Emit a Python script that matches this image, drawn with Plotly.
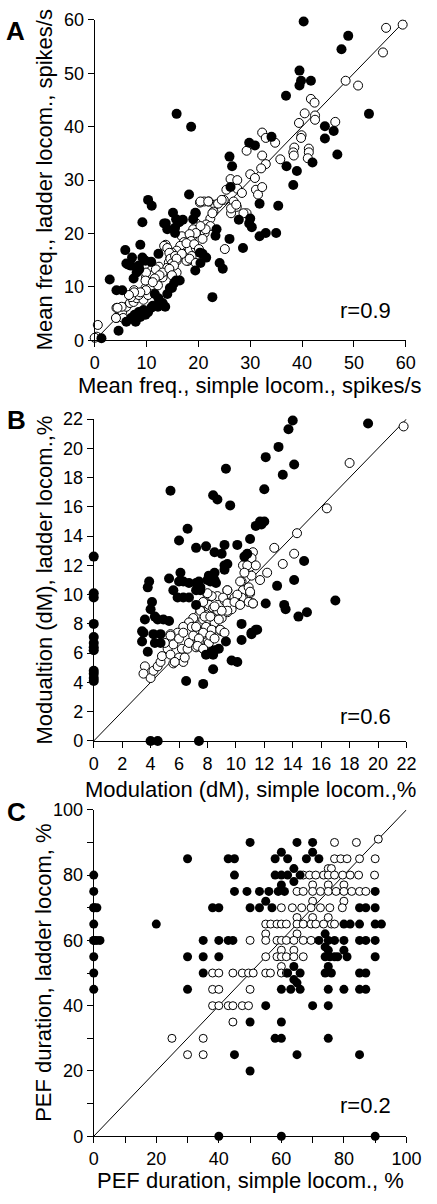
import plotly.graph_objects as go

# ---------------- Panel A: mean frequency (spikes/s) ----------------
a_filled_x = [40.3,48.9,47.6,39.5,39.8,39.5,41.7,36.9,15.8,18.6,52.9,44.4,46.1,44.4,34.1,29.8,30.9,46.8,42.0,37.0,39.0,38.3,26.0,26.5,26.2,18.2,10.3,11.0,31.8,35.4,15.1,19.4,27.8,30.0,29.8,30.3,9.2,13.7,14.0,15.5,16.3,17.0,15.5,23.5,23.3,26.0,31.8,33.0,35.0,28.6,5.9,8.8,7.2,6.1,7.0,9.2,10.9,12.3,20.3,21.5,20.4,24.1,24.7,19.4,13.4,15.7,19.0,19.5,15.3,8.5,6.4,8.1,7.5,8.6,9.8,2.9,4.2,5.3,20.8,22.7,15.7,16.4,15.3,14.5,14.0,11.6,12.3,12.7,13.6,11.2,10.9,10.3,9.4,8.5,7.7,7.0,6.1,7.9,8.8,9.8,4.6,1.3,14.9,13.1,12.2]
a_filled_y = [59.7,57.0,54.5,50.5,48.6,47.7,48.6,45.8,42.4,40.0,42.4,40.1,39.2,37.8,38.1,37.0,36.5,34.8,33.3,32.6,31.7,29.1,34.4,32.6,28.7,27.3,26.3,25.2,25.6,25.2,23.9,23.9,22.6,22.8,21.9,21.2,22.1,21.9,20.8,21.1,22.1,22.6,20.1,20.8,19.6,19.0,19.5,20.1,20.1,17.3,16.9,17.9,15.5,14.4,14.0,15.5,14.7,16.2,16.4,15.5,14.5,14.5,13.4,13.1,21.9,22.7,22.7,23.8,20.8,14.0,14.2,12.7,11.6,13.3,14.9,11.4,9.4,9.4,16.2,8.1,11.2,11.2,10.7,9.8,8.7,8.7,7.9,7.0,6.3,6.5,6.1,5.3,5.7,5.3,4.8,4.2,3.5,3.5,4.4,4.8,1.8,0.4,9.8,7.0,6.3]
a_hollow_x = [59.4,56.2,55.6,48.4,50.8,41.7,42.4,40.5,42.5,42.5,39.4,46.4,39.9,32.3,33.0,34.8,38.5,41.3,29.3,32.3,33.0,32.1,35.8,38.3,38.4,41.3,41.1,39.8,30.0,30.9,26.2,27.5,25.4,27.5,28.4,31.1,31.5,32.3,26.8,24.9,23.2,21.1,20.3,22.0,27.4,26.3,29.3,22.9,22.3,21.5,22.3,19.6,19.0,18.8,21.2,20.8,16.8,17.2,17.8,18.3,19.5,16.5,15.8,13.7,14.9,14.6,14.3,15.8,18.0,25.1,18.7,17.7,12.4,10.9,0.6,0.4,0.0,4.2,4.8,5.3,6.1,6.8,7.5,8.1,9.4,10.3,9.8,10.9,12.2,9.9,11.2,13.1,11.8,9.9,13.4,14.0,14.4,14.6,14.9,15.5,14.0,15.8,13.1,12.5,4.2,5.5,11.6,9.8,7.6,8.5,7.0,5.2,4.4,4.1,20.4,21.9,23.8,24.5,26.3,27.3,28.7,22.7,21.4,20.4,19.5,18.3,18.6,17.7,19.2,20.1,18.3,19.5,16.8,15.8,15.3,14.4,14.9,11.2,9.9,8.8,7.6,6.6]
a_hollow_y = [59.1,58.5,53.9,48.6,47.7,45.2,44.5,42.5,42.1,41.3,40.7,40.9,38.4,38.9,37.9,37.0,36.1,35.9,35.5,34.6,33.0,32.2,33.9,35.2,34.6,35.2,34.1,37.9,31.1,30.4,30.2,30.0,28.2,28.4,27.6,28.2,27.3,28.7,26.0,26.3,25.4,26.0,25.8,26.0,25.0,23.8,23.8,24.1,22.8,21.7,21.4,21.9,20.8,19.4,20.1,19.0,19.5,18.4,17.7,16.9,17.3,17.7,16.8,17.9,16.4,15.5,14.6,14.9,14.9,17.1,15.8,14.9,13.8,13.1,2.9,0.7,0.5,6.1,5.7,5.3,6.3,7.0,7.2,7.9,7.6,8.5,9.8,10.3,10.3,11.8,12.2,11.8,13.3,12.7,17.7,17.3,16.4,15.3,14.4,15.8,13.6,12.7,12.7,12.2,4.2,4.2,11.6,11.2,9.4,8.5,8.1,6.3,6.1,4.2,26.0,26.0,25.6,26.3,24.7,25.4,23.8,23.8,20.8,21.4,20.1,19.9,18.6,18.2,18.0,17.1,15.3,14.5,16.2,15.3,14.0,13.4,12.2,10.9,9.4,9.0,9.0,8.5]
a_line = [0, 60]
a_ticks = [0, 10, 20, 30, 40, 50, 60]

# ---------------- Panel B: modulation (dM, %) ----------------
b_filled_x = [14.0,13.7,19.3,13.0,12.1,14.1,9.3,13.3,5.4,12.0,8.4,8.7,9.6,11.7,12.0,0,0,0,0,6.6,6.0,7.2,7.9,8.5,9.0,9.2,10.1,11.0,11.4,11.8,10.6,10.8,9.2,9.4,9.2,8.5,8.1,8.5,6.1,6.0,6.3,6.7,7.2,7.4,7.5,8.0,8.2,8.6,7.2,7.5,3.9,3.8,5.3,5.6,5.9,6.3,6.7,7.2,4.1,4.0,3.6,4.3,4.5,4.9,5.3,12.1,12.9,13.4,13.5,14.1,14.8,17.0,14.4,15.0,10.4,11.4,11.1,3.4,0,0,0,0,0,0,0,0,4.0,4.5,7.4,3.5,3.4,3.8,4.3,4.7,4.7,4.2,6.5,7.7,7.9,8.3,8.5,8.8,8.4,8.4,9.3,9.7,10.1,10.4,11.1,11.5]
b_filled_y = [21.9,21.3,21.7,20.1,19.4,18.9,18.6,18.2,17.1,17.2,16.8,16.5,16.1,15.0,15.0,12.6,10.1,9.8,8.0,14.5,13.7,13.2,13.3,12.9,12.8,13.4,13.4,13.8,14.7,14.8,12.6,12.8,12.0,12.1,11.7,11.5,11.3,11.0,11.5,10.9,10.9,10.8,10.8,10.9,10.5,11.0,10.9,10.8,10.3,10.3,10.9,10.5,11.1,10.3,9.8,9.8,9.8,9.3,9.5,9.0,8.3,8.5,8.3,8.3,8.2,9.4,10.6,9.3,9.0,11.0,12.3,9.6,8.5,8.8,8.0,7.6,7.3,7.5,7.1,6.7,6.4,6.2,4.8,4.6,4.3,4.1,0,0,0,7.4,6.8,6.1,6.7,6.7,7.3,7.3,4.1,3.9,5.9,6.1,6.2,6.3,5.9,4.9,6.8,5.5,5.4,6.9,7.4,7.6]
b_hollow_x = [21.8,18.0,16.4,14.3,12.7,14.1,13.3,12.2,11.7,11.1,10.8,11.0,10.5,11.1,10.4,10.5,11.0,11.2,10.4,9.4,9.2,8.7,9.7,10.1,9.9,8.0,7.7,8.1,8.4,8.7,8.3,7.9,7.5,7.3,7.7,8.1,8.5,9.0,9.4,9.7,7.0,6.7,6.3,5.9,5.4,6.9,7.2,3.6,3.5,4.0,4.2,4.5,4.7,4.8,5.2,5.4,5.6,6.0,6.2,6.0,5.6,6.3,6.4,6.6,6.7,7.2,7.4,7.7,7.0,6.3,7.7,8.1,8.4,9.0,5.0,5.4,5.7,11.2,11.1,10.8,11.4,10.6,10.3,10.9,11.0,10.1,9.4,9.1,9.4,9.9,10.3,10.9,11.2,9.4,9.0,8.5,8.3,8.0,7.7,7.5,7.8,8.2,8.8,7.9,8.3,8.9,9.2,7.7,7.4,8.2,8.5,7.3,7.7]
b_hollow_y = [21.5,19.0,15.9,14.2,13.2,12.8,12.1,11.5,11.0,12.8,12.3,11.9,12.0,11.3,10.9,10.3,10.1,9.4,9.8,10.3,9.6,9.9,9.5,9.4,9.8,10.0,9.4,9.3,9.1,8.9,8.5,8.6,8.9,8.5,8.3,8.3,8.1,8.4,8.8,9.0,8.4,8.1,7.8,7.4,7.3,7.8,7.8,5.1,4.6,4.3,4.8,5.1,5.4,5.8,6.3,5.9,6.6,7.0,6.3,5.7,5.3,5.4,5.7,6.3,6.7,6.4,6.8,7.3,7.2,7.4,6.3,6.7,7.1,7.5,6.7,7.2,5.4,12.9,12.5,12.0,12.0,11.5,10.9,10.5,10.2,10.0,10.3,9.8,9.4,9.5,9.3,9.5,9.4,8.9,8.9,9.2,9.9,10.1,9.5,8.9,8.5,8.5,8.3,7.8,7.6,7.6,7.4,7.4,7.0,7.2,7.0,6.5,6.3]
b_line = [0, 22]
b_ticks = [0, 2, 4, 6, 8, 10, 12, 14, 16, 18, 20, 22]

# ---------------- Panel C: PEF duration (%) ----------------
c_filled_x = [0,0,0,0,0,0,0,0,0,0,1,1,2,30,43,45,58,60,62,68,70,72,50,65,70,45,58,60,62,64,66,64,45,49,53,56,59,60,61,90,38,40,50,53,55,57,85,87,90,20,80,82,85,90,92,35,40,43,44.5,72,74,75,77,74,80,85,87,90,30,35,40,74,75.5,77,75,78,80,81,90,35,62,64,66,64,74,76,75,85,87,30,60,63,65,66,75,80,85,87,55,70,75,50,60,58,60,75,45,65,85,50,40,60,90]
c_filled_y = [80,75,70,70,65,60,60,55,50,45,70,60,60,85,85,85,85,87,85,85,87,85,90,90,90,80,80,80,80,82,80,78,75,75,75,75,75,77,75,75,70,70,70,70,72,70,70,70,70,65,65,65,65,65,65,60,60,60,60,60,62,60,60,58,60,60,60,60,55,55,55,55,55,55,57,55,57,55,55,50,50,52,50,48,50,50,52,50,50,45,45,45,47,45,45,45,45,45,40,40,40,35,35,30,30,30,25,25,25,20,0,0,0]
c_hollow_x = [77,84,91,77,79,81,85,90,75,76,67,69,71,73.5,75,77,79.6,82,84.7,89.8,70,75,80,65,67,70,72.5,75,77.5,80,82.5,85,87,70,80,60,63.5,66.5,69.5,72.5,75.5,79.5,65,70,75,55,56.6,58.6,60,61.6,65,67,69.5,71,73.5,76,77,55,65,50,55,58.6,60,61.6,64,67,69.5,60,64,55,58.6,60,61.6,64,67,60,38,40,44.5,47.5,49.5,51,55,56.5,60,61.6,38,40,50,38,40,43,44.5,47.5,49.5,44.5,25,35,30,35]
c_hollow_y = [90,90,91,85,85,85,85,85,82,82,80,80,80,80,80,80,80,80,80,80,77,77,77,75,75,75,75,75,75,75,75,75,75,72,72,70,70,70,70,70,70,70,67,67,67,65,65,65,65,65,65,65,65,65,65,65,65,62,62,60,60,60,60,60,60,60,60,57,57,55,55,55,55,55,55,52,50,50,50,50,50,50,50,50,50,50,45,45,45,40,40,40,40,40,40,35,30,30,25,25]
c_line = [0, 100]
c_ticks = [0, 10, 20, 30, 40, 50, 60, 70, 80, 90, 100]
c_ticktext = ["0", "", "20", "", "40", "", "60", "", "80", "", "100"]

FONT = "Liberation Sans, Arial, sans-serif"
W, H = 437, 1204

fig = go.Figure()

def add_panel(xs_f, ys_f, xs_h, ys_h, line, axis, fsize, hsize):
    xa = "x" if axis == 1 else f"x{axis}"
    ya = "y" if axis == 1 else f"y{axis}"
    fig.add_trace(go.Scatter(x=line, y=line, mode="lines", xaxis=xa, yaxis=ya,
                             line=dict(color="black", width=1), showlegend=False,
                             hoverinfo="skip"))
    fig.add_trace(go.Scatter(x=xs_h, y=ys_h, mode="markers", xaxis=xa, yaxis=ya,
                             marker=dict(size=hsize, color="white",
                                         line=dict(color="black", width=1)),
                             cliponaxis=False, showlegend=False))
    fig.add_trace(go.Scatter(x=xs_f, y=ys_f, mode="markers", xaxis=xa, yaxis=ya,
                             marker=dict(size=fsize, color="black",
                                         line=dict(color="black", width=0)),
                             cliponaxis=False, showlegend=False))

add_panel(a_filled_x, a_filled_y, a_hollow_x, a_hollow_y, a_line, 1, 10, 9)
add_panel(b_filled_x, b_filled_y, b_hollow_x, b_hollow_y, b_line, 2, 10, 9)
add_panel(c_filled_x, c_filled_y, c_hollow_x, c_hollow_y, c_line, 3, 9, 8)

def ax(domain, rng, tickvals, ticktext=None, anchor=None):
    d = dict(domain=domain, range=rng, tickvals=tickvals, showgrid=False,
             zeroline=False, showline=True, linecolor="black", linewidth=1,
             ticks="outside", ticklen=6, tickwidth=1, tickcolor="black",
             tickfont=dict(family=FONT, size=18, color="black"), anchor=anchor,
             fixedrange=True)
    if ticktext is not None:
        d["ticktext"] = ticktext
    return d

xdomA = [94 / W, 420 / W]
xdomB = [93 / W, 420.7 / W]
ydomA = [1 - 336 / H, 1 - 10 / H]
ydomB = [1 - 743.3 / H, 1 - 416 / H]
ydomC = [1 - 1145.3 / H, 1 - 813.3 / H]

fig.update_layout(
    width=W, height=H, autosize=False,
    margin=dict(l=0, r=0, t=0, b=0),
    paper_bgcolor="white", plot_bgcolor="white",
    font=dict(family=FONT, color="black"),
    xaxis=ax(xdomA, [0, 60], a_ticks, anchor="y"),
    yaxis=ax(ydomA, [0, 60], a_ticks, anchor="x"),
    xaxis2=ax(xdomB, [0, 22], b_ticks, anchor="y2"),
    yaxis2=ax(ydomB, [0, 22], b_ticks, anchor="x2"),
    xaxis3=ax(xdomB, [0, 100], c_ticks, c_ticktext, anchor="y3"),
    yaxis3=ax(ydomC, [0, 100], c_ticks, c_ticktext, anchor="x3"),
)

def ann(text, px, py, size=22, angle=0, bold=False):
    fig.add_annotation(text=f"<b>{text}</b>" if bold else text,
                       x=px / W, y=1 - py / H, xref="paper", yref="paper",
                       showarrow=False, textangle=angle, xanchor="center",
                       yanchor="middle",
                       font=dict(family=FONT, size=size, color="black"))

# axis titles
ann("Mean freq., simple locom., spikes/s", 257, 382)
ann("Mean freq., ladder locom., spikes/s", 41, 173, angle=-90)
ann("Modulation (dM), simple locom.,%", 257, 793)
ann("Modualtion (dM), ladder locom.,%", 41, 580, angle=-90)
ann("PEF duration, simple locom., %", 257, 1190)
ann("PEF duration, ladder locom, %", 41, 979, angle=-90)
# r values
ann("r=0.9", 378, 306)
ann("r=0.6", 378, 718)
ann("r=0.2", 378, 1114)
# panel letters
ann("A", 11, 21, size=26, bold=True)
ann("B", 12, 417, size=26, bold=True)
ann("C", 12, 816, size=26, bold=True)

fig.write_html("out.html",
               config={"displayModeBar": False, "staticPlot": True},
               post_script="document.body.style.margin='0';document.body.style.padding='0';")
